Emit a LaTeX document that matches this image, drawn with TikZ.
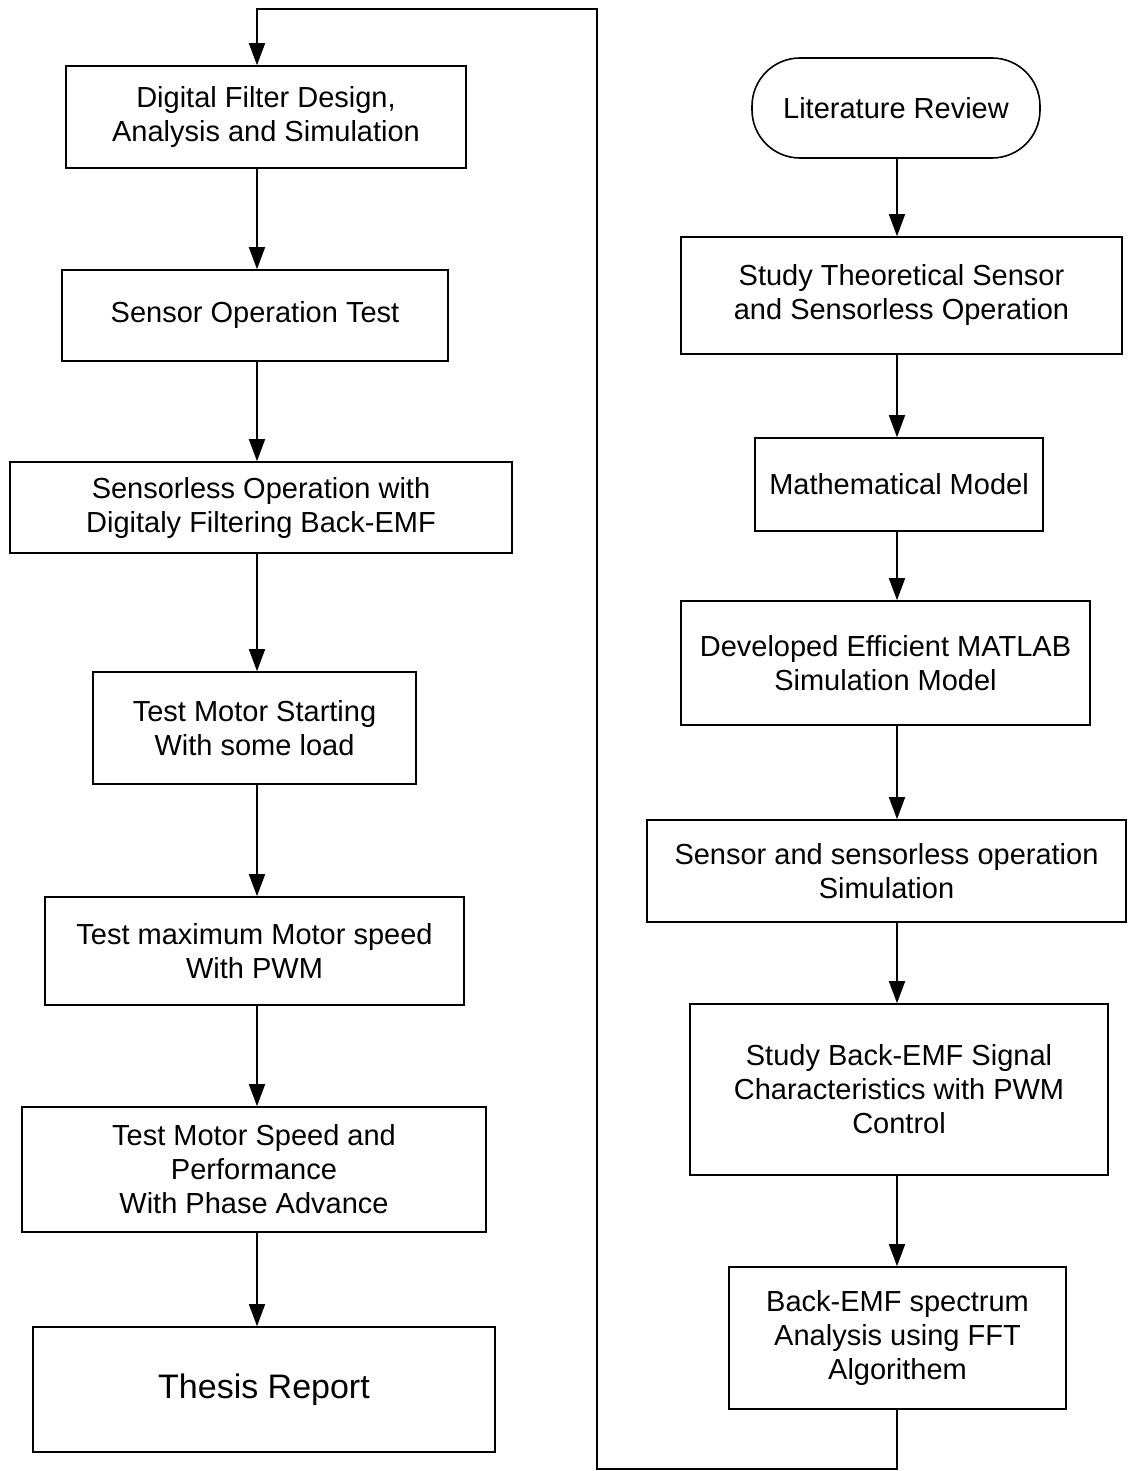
\documentclass[tikz,border=0pt]{standalone}
\usepackage{fontspec}
\setmainfont{Liberation Sans}
\usetikzlibrary{arrows.meta}
\tikzset{
  chart/.style={x=0.5pt,y=-0.5pt,
    line width=0.8pt,
    font=\fontsize{14.5}{17}\selectfont},
  proc/.style={rectangle,draw,align=center,inner sep=2pt},
  term/.style={proc,rounded corners=24pt},
  flow/.style={-{Triangle[length=11pt,width=8pt]}},
  bigtext/.style={font=\fontsize{17}{20}\selectfont}
}
\begin{document}
\begin{tikzpicture}[chart]
  \useasboundingbox (0,0) rectangle (1128,1471);
  \coordinate (lx) at (257,0);
  \coordinate (rx) at (897,0);
  \coordinate (loopB) at (597,1469);
  \coordinate (loopT) at (597,9);

  \node[proc,minimum width=200pt,minimum height=51pt] (l1) at (266,117) {Digital Filter Design,\\Analysis and Simulation};
  \node[proc,minimum width=193pt,minimum height=45.5pt] (l2) at (255,315.5) {Sensor Operation Test};
  \node[proc,minimum width=251pt,minimum height=45.5pt] (l3) at (261,507.5) {Sensorless Operation with\\Digitaly Filtering Back-EMF};
  \node[proc,minimum width=161.5pt,minimum height=56pt] (l4) at (254.5,728) {Test Motor Starting\\With some load};
  \node[proc,minimum width=209.5pt,minimum height=54pt] (l5) at (254.5,951) {Test maximum Motor speed\\With PWM};
  \node[proc,minimum width=232pt,minimum height=62.5pt] (l6) at (254,1169.5) {Test Motor Speed and\\Performance\\With Phase Advance};
  \node[proc,bigtext,minimum width=231pt,minimum height=62.5pt] (l7) at (264,1389.5) {Thesis Report};

  \node[term,minimum width=144pt,minimum height=50pt] (r1) at (896,108) {Literature Review};
  \node[proc,minimum width=220.5pt,minimum height=58.5pt] (r2) at (901.5,295.5) {Study Theoretical Sensor\\and Sensorless Operation};
  \node[proc,minimum width=144pt,minimum height=46.5pt] (r3) at (899,484.5) {Mathematical Model};
  \node[proc,minimum width=204.5pt,minimum height=62pt] (r4) at (885.5,663) {Developed Efficient MATLAB\\Simulation Model};
  \node[proc,minimum width=239.5pt,minimum height=51pt] (r5) at (886.5,871) {Sensor and sensorless operation\\Simulation};
  \node[proc,minimum width=209pt,minimum height=85.5pt] (r6) at (899,1089.5) {Study Back-EMF Signal\\Characteristics with PWM\\Control};
  \node[proc,minimum width=168.5pt,minimum height=71pt] (r7) at (897.5,1338) {Back-EMF spectrum\\Analysis using FFT\\Algorithem};

  \foreach \a/\b in {l1/l2,l2/l3,l3/l4,l4/l5,l5/l6,l6/l7}
    \draw[flow] (\a.south -| lx) -- (\b.north -| lx);
  \foreach \a/\b in {r1/r2,r2/r3,r3/r4,r4/r5,r5/r6,r6/r7}
    \draw[flow] (\a.south -| rx) -- (\b.north -| rx);
  \draw[flow] (r7.south -| rx) |- (loopB) -- (loopT) -| (l1.north -| lx);
\end{tikzpicture}
\end{document}
